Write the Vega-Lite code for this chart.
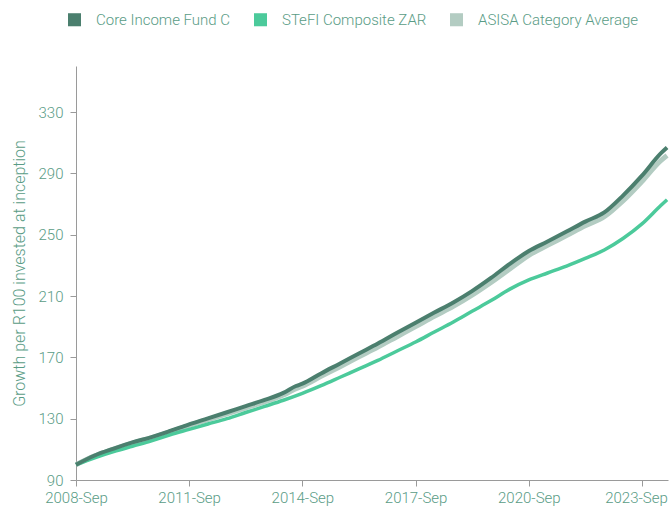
{
  "$schema": "https://vega.github.io/schema/vega-lite/v6.json",
  "width": 592,
  "height": 414,
  "autosize": {"type": "none"},
  "padding": {"left": 76, "top": 66, "right": 4, "bottom": 29},
  "background": "white",
  "config": {
    "view": {"stroke": null},
    "font": "Roboto",
    "axis": {"labelFont": "Roboto", "titleFont": "Roboto", "labelColor": "#5a9c86", "titleColor": "#5a9c86", "domainColor": "#9a9a9a", "tickColor": "#9a9a9a", "grid": false, "labelFontSize": 15, "labelFontWeight": 300},
    "legend": {"labelFont": "Roboto", "labelColor": "#5a9c86", "labelFontSize": 15, "labelFontWeight": 300, "labelLimit": 0}
  },
  "data": {"values": [
    {"series": "Core Income Fund C", "date": "2008-09-01", "value": 100},
    {"series": "Core Income Fund C", "date": "2009-03-01", "value": 106},
    {"series": "Core Income Fund C", "date": "2009-09-01", "value": 110.5},
    {"series": "Core Income Fund C", "date": "2010-03-01", "value": 114.5},
    {"series": "Core Income Fund C", "date": "2010-09-01", "value": 118},
    {"series": "Core Income Fund C", "date": "2011-03-01", "value": 122},
    {"series": "Core Income Fund C", "date": "2011-09-01", "value": 126.3},
    {"series": "Core Income Fund C", "date": "2012-03-01", "value": 130.2},
    {"series": "Core Income Fund C", "date": "2012-09-01", "value": 134.2},
    {"series": "Core Income Fund C", "date": "2013-03-01", "value": 138.2},
    {"series": "Core Income Fund C", "date": "2013-09-01", "value": 142.2},
    {"series": "Core Income Fund C", "date": "2014-03-01", "value": 146.8},
    {"series": "Core Income Fund C", "date": "2014-07-01", "value": 151.3},
    {"series": "Core Income Fund C", "date": "2014-09-01", "value": 152.8},
    {"series": "Core Income Fund C", "date": "2015-03-01", "value": 159.5},
    {"series": "Core Income Fund C", "date": "2015-09-01", "value": 166},
    {"series": "Core Income Fund C", "date": "2016-03-01", "value": 172.5},
    {"series": "Core Income Fund C", "date": "2016-09-01", "value": 179},
    {"series": "Core Income Fund C", "date": "2017-03-01", "value": 185.8},
    {"series": "Core Income Fund C", "date": "2017-09-01", "value": 192.6},
    {"series": "Core Income Fund C", "date": "2018-03-01", "value": 199.2},
    {"series": "Core Income Fund C", "date": "2018-09-01", "value": 205.8},
    {"series": "Core Income Fund C", "date": "2019-03-01", "value": 213.2},
    {"series": "Core Income Fund C", "date": "2019-09-01", "value": 221.8},
    {"series": "Core Income Fund C", "date": "2020-03-01", "value": 231},
    {"series": "Core Income Fund C", "date": "2020-09-01", "value": 239.3},
    {"series": "Core Income Fund C", "date": "2021-03-01", "value": 245.5},
    {"series": "Core Income Fund C", "date": "2021-09-01", "value": 252},
    {"series": "Core Income Fund C", "date": "2022-03-01", "value": 258.5},
    {"series": "Core Income Fund C", "date": "2022-09-01", "value": 264.5},
    {"series": "Core Income Fund C", "date": "2023-03-01", "value": 275.5},
    {"series": "Core Income Fund C", "date": "2023-09-01", "value": 288.5},
    {"series": "Core Income Fund C", "date": "2024-03-01", "value": 303},
    {"series": "Core Income Fund C", "date": "2024-05-01", "value": 306.8},
    {"series": "STeFI Composite ZAR", "date": "2008-09-01", "value": 100},
    {"series": "STeFI Composite ZAR", "date": "2009-03-01", "value": 104.5},
    {"series": "STeFI Composite ZAR", "date": "2009-09-01", "value": 108.5},
    {"series": "STeFI Composite ZAR", "date": "2010-03-01", "value": 112},
    {"series": "STeFI Composite ZAR", "date": "2010-09-01", "value": 115.5},
    {"series": "STeFI Composite ZAR", "date": "2011-03-01", "value": 119.5},
    {"series": "STeFI Composite ZAR", "date": "2011-09-01", "value": 123},
    {"series": "STeFI Composite ZAR", "date": "2012-03-01", "value": 126.5},
    {"series": "STeFI Composite ZAR", "date": "2012-09-01", "value": 130},
    {"series": "STeFI Composite ZAR", "date": "2013-03-01", "value": 134},
    {"series": "STeFI Composite ZAR", "date": "2013-09-01", "value": 138},
    {"series": "STeFI Composite ZAR", "date": "2014-03-01", "value": 142},
    {"series": "STeFI Composite ZAR", "date": "2014-09-01", "value": 146.5},
    {"series": "STeFI Composite ZAR", "date": "2015-03-01", "value": 151.5},
    {"series": "STeFI Composite ZAR", "date": "2015-09-01", "value": 157},
    {"series": "STeFI Composite ZAR", "date": "2016-03-01", "value": 162.5},
    {"series": "STeFI Composite ZAR", "date": "2016-09-01", "value": 168},
    {"series": "STeFI Composite ZAR", "date": "2017-03-01", "value": 174},
    {"series": "STeFI Composite ZAR", "date": "2017-09-01", "value": 180},
    {"series": "STeFI Composite ZAR", "date": "2018-03-01", "value": 186.5},
    {"series": "STeFI Composite ZAR", "date": "2018-09-01", "value": 193},
    {"series": "STeFI Composite ZAR", "date": "2019-03-01", "value": 200},
    {"series": "STeFI Composite ZAR", "date": "2019-09-01", "value": 207},
    {"series": "STeFI Composite ZAR", "date": "2020-03-01", "value": 214.5},
    {"series": "STeFI Composite ZAR", "date": "2020-09-01", "value": 220.5},
    {"series": "STeFI Composite ZAR", "date": "2021-03-01", "value": 225},
    {"series": "STeFI Composite ZAR", "date": "2021-09-01", "value": 229.5},
    {"series": "STeFI Composite ZAR", "date": "2022-03-01", "value": 234.5},
    {"series": "STeFI Composite ZAR", "date": "2022-09-01", "value": 240},
    {"series": "STeFI Composite ZAR", "date": "2023-03-01", "value": 247.5},
    {"series": "STeFI Composite ZAR", "date": "2023-09-01", "value": 257},
    {"series": "STeFI Composite ZAR", "date": "2024-03-01", "value": 269},
    {"series": "STeFI Composite ZAR", "date": "2024-05-01", "value": 272.8},
    {"series": "ASISA Category Average", "date": "2008-09-01", "value": 100},
    {"series": "ASISA Category Average", "date": "2009-03-01", "value": 105.8},
    {"series": "ASISA Category Average", "date": "2009-09-01", "value": 110.2},
    {"series": "ASISA Category Average", "date": "2010-03-01", "value": 114.1},
    {"series": "ASISA Category Average", "date": "2010-09-01", "value": 117.5},
    {"series": "ASISA Category Average", "date": "2011-03-01", "value": 121.4},
    {"series": "ASISA Category Average", "date": "2011-09-01", "value": 125.6},
    {"series": "ASISA Category Average", "date": "2012-03-01", "value": 129.4},
    {"series": "ASISA Category Average", "date": "2012-09-01", "value": 133.2},
    {"series": "ASISA Category Average", "date": "2013-03-01", "value": 137.1},
    {"series": "ASISA Category Average", "date": "2013-09-01", "value": 141},
    {"series": "ASISA Category Average", "date": "2014-03-01", "value": 145.4},
    {"series": "ASISA Category Average", "date": "2014-07-01", "value": 149.6},
    {"series": "ASISA Category Average", "date": "2014-09-01", "value": 151.2},
    {"series": "ASISA Category Average", "date": "2015-03-01", "value": 157.6},
    {"series": "ASISA Category Average", "date": "2015-09-01", "value": 163.9},
    {"series": "ASISA Category Average", "date": "2016-03-01", "value": 170.3},
    {"series": "ASISA Category Average", "date": "2016-09-01", "value": 176.7},
    {"series": "ASISA Category Average", "date": "2017-03-01", "value": 183.3},
    {"series": "ASISA Category Average", "date": "2017-09-01", "value": 190},
    {"series": "ASISA Category Average", "date": "2018-03-01", "value": 196.7},
    {"series": "ASISA Category Average", "date": "2018-09-01", "value": 203.2},
    {"series": "ASISA Category Average", "date": "2019-03-01", "value": 210.5},
    {"series": "ASISA Category Average", "date": "2019-09-01", "value": 218.8},
    {"series": "ASISA Category Average", "date": "2020-03-01", "value": 227.6},
    {"series": "ASISA Category Average", "date": "2020-09-01", "value": 236.5},
    {"series": "ASISA Category Average", "date": "2021-03-01", "value": 243},
    {"series": "ASISA Category Average", "date": "2021-09-01", "value": 249.4},
    {"series": "ASISA Category Average", "date": "2022-03-01", "value": 255.8},
    {"series": "ASISA Category Average", "date": "2022-09-01", "value": 261.7},
    {"series": "ASISA Category Average", "date": "2023-03-01", "value": 272},
    {"series": "ASISA Category Average", "date": "2023-09-01", "value": 284.7},
    {"series": "ASISA Category Average", "date": "2024-03-01", "value": 298.3},
    {"series": "ASISA Category Average", "date": "2024-05-01", "value": 301.6}
  ]},
  "encoding": {
    "x": {
      "field": "date", "type": "temporal",
      "scale": {"type": "utc", "domain": ["2008-09-01", "2024-05-10"]},
      "axis": {
        "title": null, "format": "%Y-%b", "tickSize": 6, "labelPadding": 4,
        "values": [
          {"year": 2008, "month": 9, "date": 1, "utc": true},
          {"year": 2011, "month": 9, "date": 1, "utc": true},
          {"year": 2014, "month": 9, "date": 1, "utc": true},
          {"year": 2017, "month": 9, "date": 1, "utc": true},
          {"year": 2020, "month": 9, "date": 1, "utc": true},
          {"year": 2023, "month": 9, "date": 1, "utc": true}
        ],
        "labelOverlap": false, "labelFlush": false,
        "labelOffset": {"condition": {"test": "datum.label == '2023-Sep'", "value": -6}, "value": 0}
      }
    },
    "y": {
      "field": "value", "type": "quantitative",
      "scale": {"domain": [90, 360], "nice": false, "zero": false},
      "axis": {
        "title": "Growth per R100 invested at inception",
        "titleFontSize": 16, "titleFontWeight": 300,
        "titleX": -57, "titleAngle": -90, "titleAlign": "center", "titleBaseline": "middle",
        "values": [90, 130, 170, 210, 250, 290, 330],
        "tickSize": 6, "labelPadding": 7
      }
    },
    "color": {
      "field": "series", "type": "nominal",
      "scale": {
        "domain": ["Core Income Fund C", "STeFI Composite ZAR", "ASISA Category Average"],
        "range": ["#4b7f6e", "#4cca9b", "#b3ccc2"]
      },
      "legend": {
        "title": null, "orient": "none", "direction": "horizontal",
        "legendX": -9, "legendY": -54,
        "symbolType": "square", "symbolSize": 170, "labelOffset": 14, "columnPadding": 22,
        "encode": {"symbols": {"update": {"fill": {"scale": "color", "field": "value"}, "strokeWidth": {"value": 0}, "opacity": {"value": 1}}}}
      }
    }
  },
  "layer": [
    {"transform": [{"filter": "datum.series === 'ASISA Category Average'"}], "mark": {"type": "line", "strokeWidth": 5, "interpolate": "monotone"}},
    {"transform": [{"filter": "datum.series === 'STeFI Composite ZAR'"}], "mark": {"type": "line", "strokeWidth": 3.5, "interpolate": "monotone"}},
    {"transform": [{"filter": "datum.series === 'Core Income Fund C'"}], "mark": {"type": "line", "strokeWidth": 4, "interpolate": "monotone"}}
  ]
}
